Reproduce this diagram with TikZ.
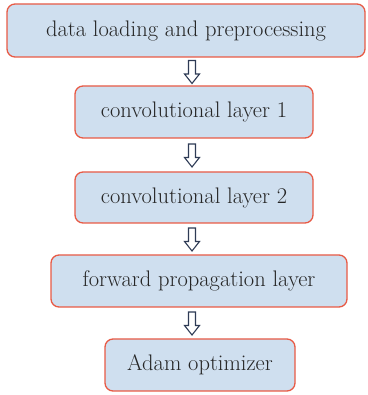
\documentclass[tikz,border=0pt]{standalone}
\usetikzlibrary{calc}
\definecolor{boxfill}{HTML}{CFDFEF}
\definecolor{boxline}{HTML}{E85A45}
\definecolor{arrline}{HTML}{2E3B55}
\tikzset{
  stepbox/.style={draw=boxline, fill=boxfill, line width=1.3pt, rounded corners=8pt,
    inner sep=0pt, font=\fontsize{22.5}{26}\selectfont, text=black!85},
  harrow/.style={draw=arrline, fill=white, line width=1.1pt, line join=miter}
}
\newcommand\hollowdown[1]{%
  \draw[harrow, shift={(#1)}] (-3.5,11) -- (3.5,11) -- (3.5,-2.5) -- (7.5,-2.5) -- (0,-12) -- (-7.5,-2.5) -- (-3.5,-2.5) -- cycle;}
\begin{document}
\begin{tikzpicture}[x=1pt,y=1pt]
\useasboundingbox (0,0) rectangle (367,395);
\node[stepbox, minimum width=358pt, minimum height=53pt] (b1) at (186,364.5) {data loading and preprocessing};
\node[stepbox, minimum width=238pt, minimum height=52pt] (b2) at (194,283) {convolutional layer 1};
\node[stepbox, minimum width=238pt, minimum height=51pt] (b3) at (194,197.5) {convolutional layer 2};
\node[stepbox, minimum width=296pt, minimum height=52pt] (b4) at (199,114) {forward propagation layer};
\node[stepbox, minimum width=190pt, minimum height=52pt] (b5) at (200,30) {Adam optimizer};
\coordinate (ax) at (192,0);
\coordinate (m1) at ($(b1.south)!0.5!(b2.north)$);
\coordinate (m2) at ($(b2.south)!0.5!(b3.north)$);
\coordinate (m3) at ($(b3.south)!0.5!(b4.north)$);
\coordinate (m4) at ($(b4.south)!0.5!(b5.north)$);
\coordinate (a1) at (m1 -| ax);
\coordinate (a2) at (m2 -| ax);
\coordinate (a3) at (m3 -| ax);
\coordinate (a4) at (m4 -| ax);
\hollowdown{a1}
\hollowdown{a2}
\hollowdown{a3}
\hollowdown{a4}
\end{tikzpicture}
\end{document}
